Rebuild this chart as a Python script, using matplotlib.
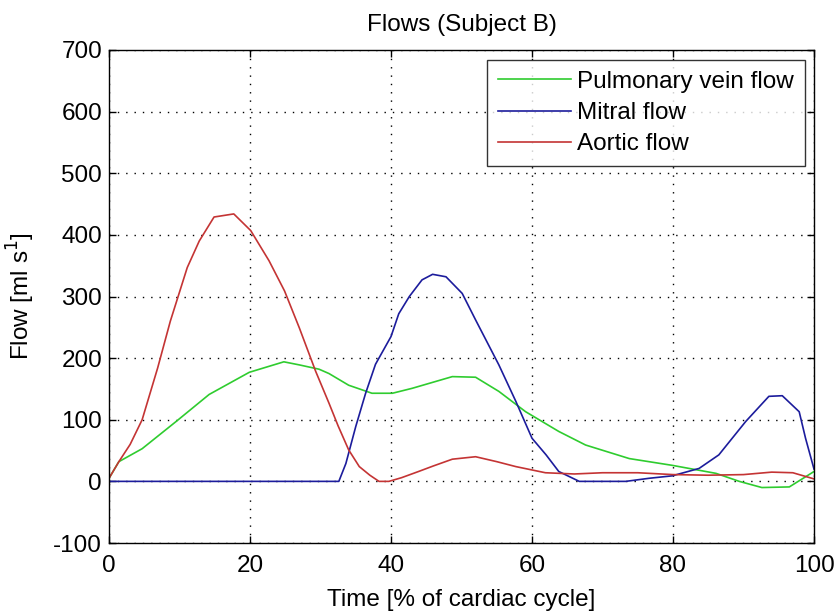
import matplotlib
matplotlib.use("Agg")
import matplotlib.pyplot as plt
import numpy as np

plt.rcParams['font.family'] = ['Liberation Sans', 'DejaVu Sans']
plt.rcParams['axes.unicode_minus'] = False

# Aortic flow
aortic_t = [0, 1.4, 3, 4.7, 6.9, 8.7, 11.1, 12.8, 14.9, 17.7, 20.1, 22.7, 24.9, 27, 29.3,
            31.2, 32.5, 34, 35.5, 37, 38.3, 39.7, 41.5, 43.9, 46, 48.7, 52, 55, 57.7, 61.9,
            66, 70, 75, 80, 85, 90, 94, 97, 100]
aortic_v = [5, 32, 60, 100, 184, 260, 347, 390, 429, 434, 407, 358, 309, 249, 179,
            127, 90, 51, 24, 10, 0, 0, 6, 16, 25, 36, 40, 32, 24, 14,
            12, 14, 14, 11, 10, 11, 15, 14, 4]

# Pulmonary vein flow
pulm_t = [0, 1.4, 4.7, 9.5, 14.2, 19.9, 24.8, 27, 29.8, 31.2, 34, 37.3, 40.2, 43, 45.4,
          48.7, 52, 55.3, 59.1, 63.8, 67.6, 73.8, 79.9, 86.1, 89.4, 92.6, 96.5, 100]
pulm_v = [5, 32, 53, 97, 141, 177, 194, 189, 182, 175, 156, 143, 143, 151, 159,
          170, 169, 146, 113, 81, 59, 37, 26, 13, 0, -10, -9, 16]

# Mitral flow
mitral_t = [0, 32.6, 33.6, 35, 36.4, 37.8, 40, 41.1, 42.6, 44.4, 45.9, 47.8, 50.1, 52,
            55.3, 57.7, 60, 62, 63.8, 66.7, 73.3, 76.6, 79.9, 83.7, 86.5, 90.3, 93.6,
            95.5, 97.9, 98.8, 100]
mitral_v = [0, 0, 29, 89, 143, 190, 235, 272, 300, 327, 336, 332, 305, 262,
            189, 130, 70, 43, 16, 0, 0, 5, 9, 21, 43, 97, 138,
            139, 113, 70, 20]

xticks = [0, 20, 40, 60, 80, 100]
yticks = [-100, 0, 100, 200, 300, 400, 500, 600, 700]

FS = 17.5

fig = plt.figure(figsize=(8.39, 6.12), dpi=100)
ax = fig.add_axes([109/839, 1-543/612, (814-109)/839, (543-50)/612])

ax.plot(pulm_t, pulm_v, color='#2fcc2f', lw=1.2, label='Pulmonary vein flow')
ax.plot(mitral_t, mitral_v, color='#1c1c9c', lw=1.2, label='Mitral flow')
ax.plot(aortic_t, aortic_v, color='#c43434', lw=1.2, label='Aortic flow')

ax.set_xlim(0, 100)
ax.set_ylim(-100, 700)
ax.set_xticks(xticks)
ax.set_yticks(yticks)
ax.grid(True, color='black', linestyle=(0, (1, 5)), linewidth=1.0)
ax.tick_params(direction='in', top=True, right=True, labelsize=FS, length=5, width=1, pad=5)
ax.tick_params(axis='x', pad=9)
for s in ax.spines.values():
    s.set_linewidth(1.0)

ax.set_title('Flows (Subject B)', fontsize=FS, pad=14)
ax.set_xlabel('Time [% of cardiac cycle]', fontsize=FS, labelpad=8)
ax.set_ylabel('Flow [ml s$^{1}$]', fontsize=FS, labelpad=12)

leg = ax.legend(loc='upper right', bbox_to_anchor=(805/839, 1-60/612), bbox_transform=fig.transFigure,
                fontsize=FS, frameon=True, fancybox=False, edgecolor='black',
                borderaxespad=0, handlelength=3.0, handletextpad=0.25, labelspacing=0.38,
                borderpad=0.45)
leg.get_frame().set_linewidth(1.0)

fig.savefig('out.png', dpi=100)
